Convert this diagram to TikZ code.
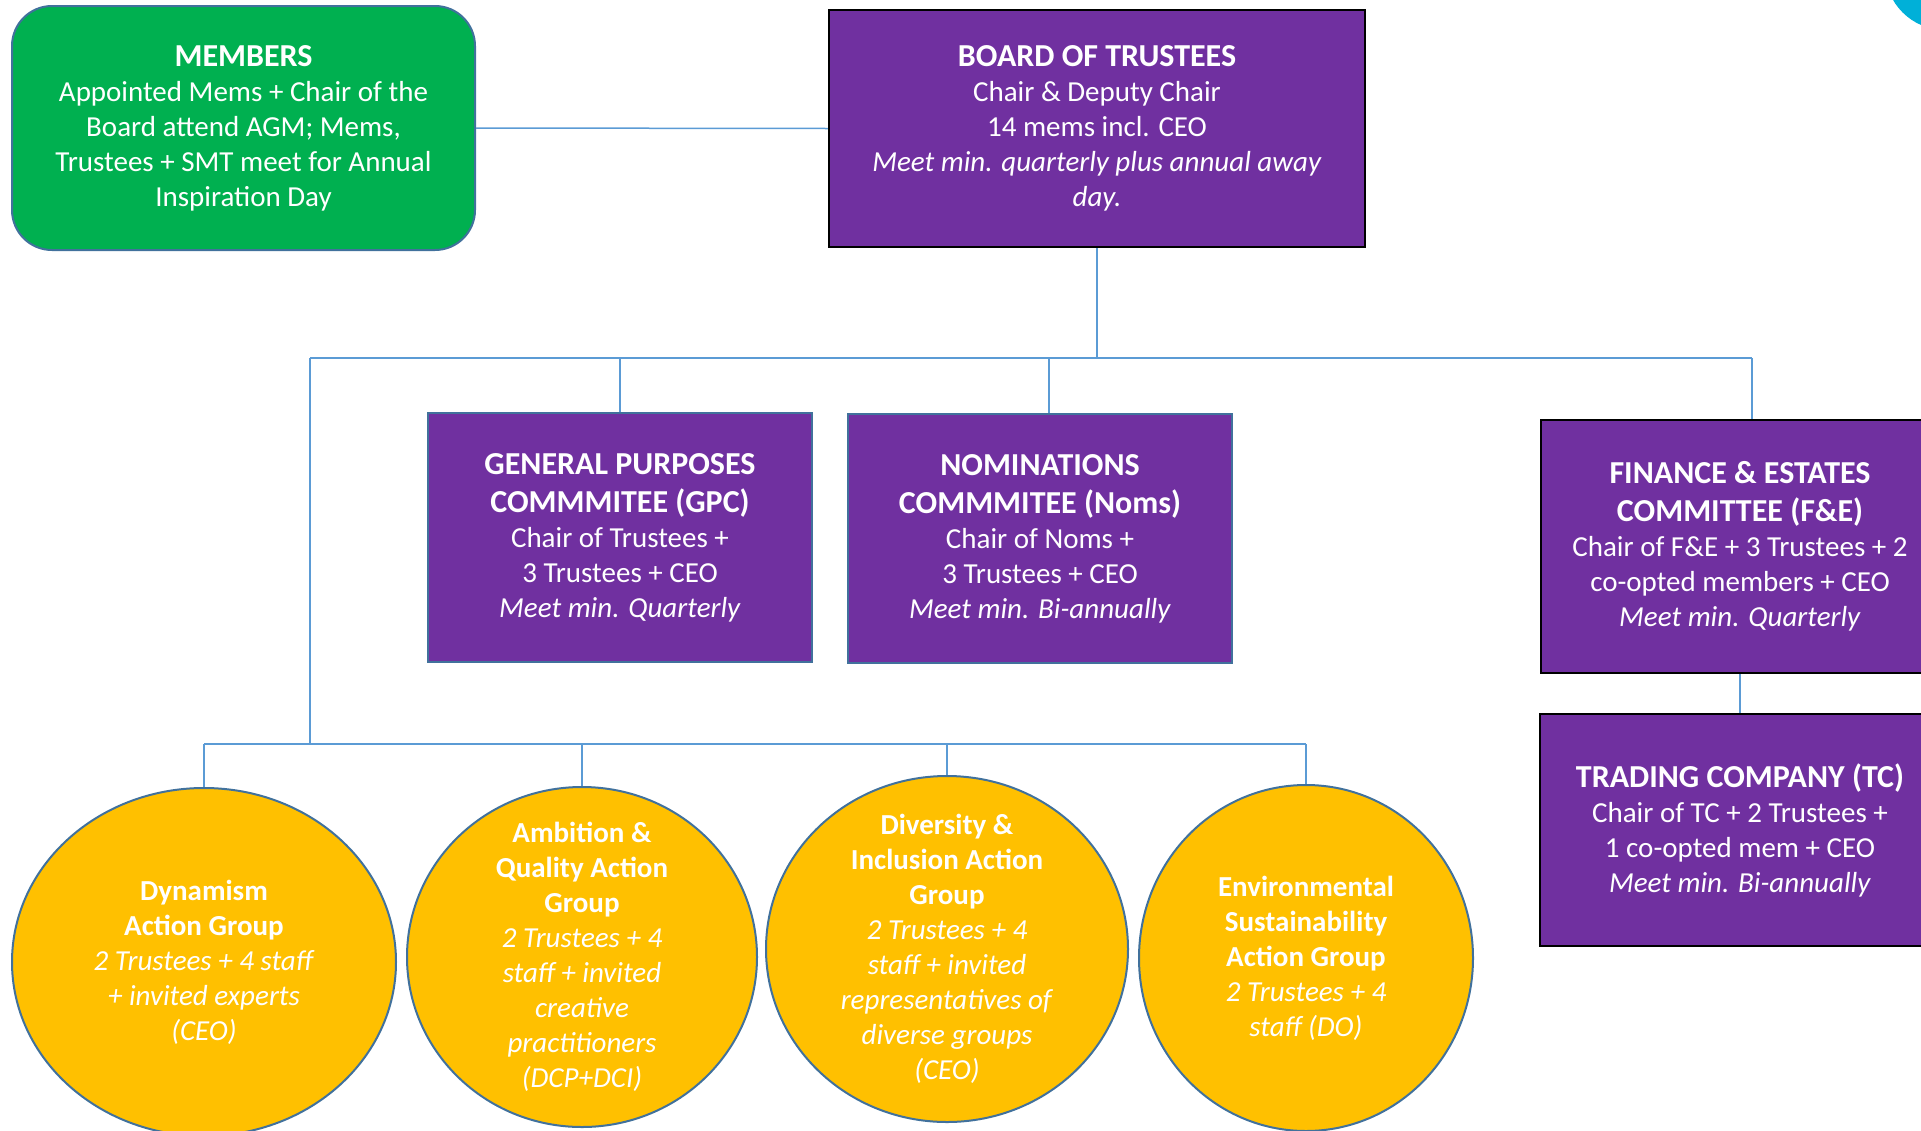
\documentclass[tikz,border=0pt]{standalone}
\usepackage{fontspec}
\setmainfont{Carlito}
\usetikzlibrary{shapes, positioning}
\definecolor{memgreen}{HTML}{00B050}
\definecolor{boardpurple}{HTML}{7030A0}
\definecolor{groupgold}{HTML}{FFC000}
\definecolor{linkblue}{HTML}{5B9BD5}
\definecolor{edgeblue}{HTML}{41719C}
\definecolor{cornerblue}{HTML}{00B0D8}
\newcommand{\chartfont}{\fontsize{29}{35}\selectfont}
\newcommand{\headfont}{\fontsize{32}{38}\selectfont\bfseries}

\begin{document}
\begin{tikzpicture}[x=1pt, y=-1pt,
    members/.style={rectangle, draw=edgeblue, line width=2pt, rounded corners=40pt, fill=memgreen,
        text centered, align=center, text=white, font=\chartfont},
    board/.style={rectangle, draw=black, line width=2.5pt, fill=boardpurple,
        text centered, align=center, text=white, font=\chartfont},
    committee/.style={rectangle, draw=edgeblue, line width=2pt, fill=boardpurple,
        text centered, align=center, text=white, font=\chartfont,
        minimum width=384pt, minimum height=249pt, inner sep=0pt},
    group/.style={ellipse, draw=edgeblue, line width=2pt, fill=groupgold, inner sep=0pt,
        label={[text=white, align=center, font=\chartfont]center:#1}},
    link/.style={draw=linkblue, line width=1.5pt}
]
\useasboundingbox (0,0) rectangle (1921,1130);
\clip (0,0) rectangle (1921,1130);
\fill[cornerblue] (1945,-30) circle[radius=60pt];

\node (M00) [members, minimum width=463pt, minimum height=244pt] at (243.5,128)
    {{\headfont MEMBERS}\\Appointed Mems + Chair of the\\Board attend AGM; Mems,\\Trustees + SMT meet for Annual\\Inspiration Day};
\node (B00) [board, minimum width=536pt, minimum height=237pt] at (1097,128.5)
    {{\headfont BOARD OF TRUSTEES}\\Chair \& Deputy Chair\\14 mems incl. CEO\\\textit{Meet min. quarterly plus annual away}\\\textit{day.}};

\node (C01) [committee] at (620,537.5)
    {{\headfont GENERAL PURPOSES}\\[3pt]{\headfont COMMMITEE (GPC)}\\Chair of Trustees +\\3 Trustees + CEO\\\textit{Meet min. Quarterly}};
\node (C02) [committee] at (1040,538.5)
    {{\headfont NOMINATIONS}\\[3pt]{\headfont COMMMITEE (Noms)}\\Chair of Noms +\\3 Trustees + CEO\\\textit{Meet min. Bi-annually}};
\node (C03) [board, minimum width=398pt, minimum height=253pt, inner sep=0pt] at (1740,546.5)
    {{\headfont FINANCE \& ESTATES}\\[3pt]{\headfont COMMITTEE (F\&E)}\\Chair of F\&E + 3 Trustees + 2\\co-opted members + CEO\\\textit{Meet min. Quarterly}};
\node (C04) [board, minimum width=400pt, minimum height=232pt, inner sep=0pt] at (1740,830)
    {{\headfont TRADING COMPANY (TC)}\\Chair of TC + 2 Trustees +\\1 co-opted mem + CEO\\\textit{Meet min. Bi-annually}};

\node (G01) [group={\textbf{Dynamism}\\\textbf{Action Group}\\\textit{2 Trustees + 4 staff}\\\textit{+ invited experts}\\\textit{(CEO)}},
    minimum width=384pt, minimum height=348pt] at (204,962) {};
\node (G02) [group={\textbf{Ambition \&}\\\textbf{Quality Action}\\\textbf{Group}\\\textit{2 Trustees + 4}\\\textit{staff + invited}\\\textit{creative}\\\textit{practitioners}\\\textit{(DCP+DCI)}},
    minimum width=350pt, minimum height=340pt] at (582,957) {};
\node (G03) [group={\textbf{Diversity \&}\\\textbf{Inclusion Action}\\\textbf{Group}\\\textit{2 Trustees + 4}\\\textit{staff + invited}\\\textit{representatives of}\\\textit{diverse groups}\\\textit{(CEO)}},
    minimum width=362pt, minimum height=346pt] at (947,949) {};
\node (G04) [group={\textbf{Environmental}\\\textbf{Sustainability}\\\textbf{Action Group}\\\textit{2 Trustees + 4}\\\textit{staff (DO)}},
    minimum width=334pt, minimum height=346pt] at (1306,958) {};

\coordinate (bar1) at (310,358);
\coordinate (bar2) at (1752,358);
\coordinate (bar3) at (310,744);

\draw[link] (M00.east) -- (B00.west);
\draw[link] (B00.south) -- (B00.south |- bar1);
\draw[link] (bar1) -- (bar2);
\draw[link] (C01.north |- bar1) -- (C01.north);
\draw[link] ([xshift=9pt]C02.north |- bar1) -- ([xshift=9pt]C02.north);
\draw[link] (bar2) -- (bar2 |- C03.north);
\draw[link] (C03.south) -- (C04.north);
\draw[link] (bar1) -- (bar3);
\draw[link] (G01.north |- bar3) -- (G04.north |- bar3);
\foreach \g in {G01, G02, G03, G04}
    \draw[link] (\g.north |- bar3) -- (\g.north);
\end{tikzpicture}
\end{document}
